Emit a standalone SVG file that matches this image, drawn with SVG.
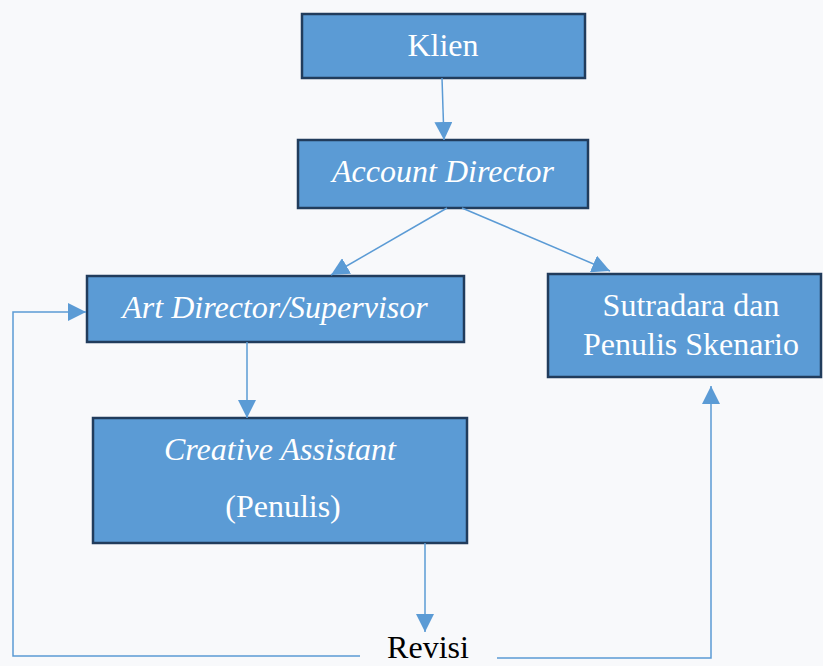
<svg xmlns="http://www.w3.org/2000/svg" width="823" height="666" viewBox="0 0 823 666">
<defs>
<style>
.box{fill:#5b9bd5;stroke:#213c5c;stroke-width:2.5}
.t{font-family:"Liberation Serif","DejaVu Serif","Times New Roman",serif;font-size:32px;fill:#ffffff;text-anchor:middle}
.i{font-style:italic}
.c{fill:none;stroke:#5b9bd5;stroke-width:1.5}
</style>
<marker id="ah" markerUnits="userSpaceOnUse" markerWidth="18" markerHeight="18" viewBox="0 0 16 16" refX="16" refY="8" orient="auto">
<path d="M0,0 L16,8 L0,16 Z" fill="#5b9bd5"/>
</marker>
</defs>
<rect x="0" y="0" width="823" height="666" fill="#f8f9fb"/>
<g id="klien">
<rect class="box" x="302" y="14" width="283" height="64"/>
<text class="t" x="443" y="56">Klien</text>
</g>
<g id="account-director">
<rect class="box" x="298" y="140" width="290" height="68"/>
<text class="t i" x="443" y="182">Account Director</text>
</g>
<g id="art-director">
<rect class="box" x="87" y="276" width="377" height="66"/>
<text class="t i" x="275" y="318">Art Director/Supervisor</text>
</g>
<g id="sutradara">
<rect class="box" x="548" y="274" width="273" height="103"/>
<text class="t" x="691" y="316">Sutradara dan</text>
<text class="t" x="691" y="355">Penulis Skenario</text>
</g>
<g id="creative-assistant">
<rect class="box" x="93" y="418" width="374" height="125"/>
<text class="t i" x="280" y="460">Creative Assistant</text>
<text class="t" x="283" y="517">(Penulis)</text>
</g>
<g id="revisi">
<text class="t" x="428" y="658" style="fill:#000000">Revisi</text>
</g>
<g id="connectors">
<path class="c" d="M442,78 L444,140" marker-end="url(#ah)"/>
<path class="c" d="M447,208 L331,275" marker-end="url(#ah)"/>
<path class="c" d="M462,208 L610,271" marker-end="url(#ah)"/>
<path class="c" d="M247,342 L247,418" marker-end="url(#ah)"/>
<path class="c" d="M425,543 L425,632" marker-end="url(#ah)"/>
<path class="c" d="M360,656 L13,656 L13,312 L86,312" marker-end="url(#ah)"/>
<path class="c" d="M497,658 L711,658 L711,386" marker-end="url(#ah)"/>
</g>
</svg>
